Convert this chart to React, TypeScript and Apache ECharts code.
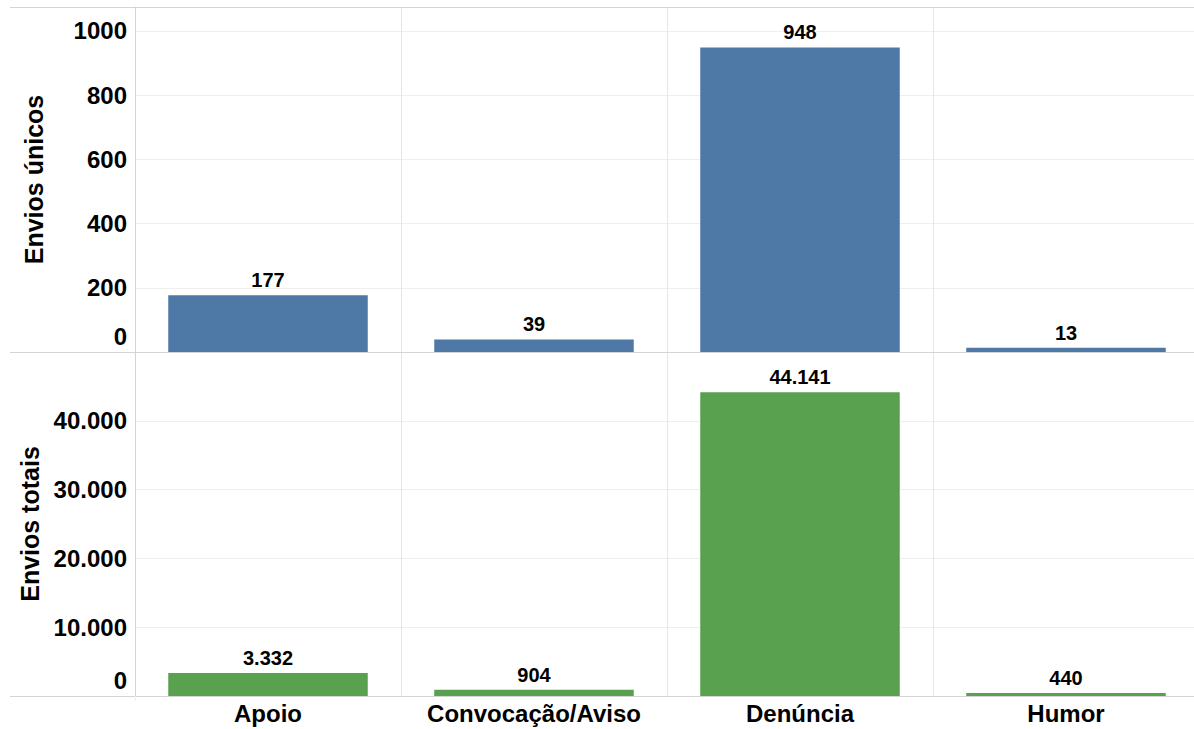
import React, { useEffect, useRef } from "react";
import * as echarts from "echarts";

const categories = ["Apoio", "Convocação/Aviso", "Denúncia", "Humor"];
const enviosUnicos = [177, 39, 948, 13];
const enviosTotais = [3332, 904, 44141, 440];
const uniqueTitle = "Envios únicos";
const totalTitle = "Envios totais";

const BLUE = "#4e79a7";
const GREEN = "#59a14f";
const FONT = "Liberation Sans, Arial, sans-serif";

const fmt = (n: number) => String(Math.round(n)).replace(/\B(?=(\d{3})+(?!\d))/g, ".");

const LEFT = 135;
const PLOT_W = 1064;
const TOP1 = 7;
const MID = 352;
const BOT = 696;

export default function App() {
  const ref = useRef<HTMLDivElement>(null);
  useEffect(() => {
    if (!ref.current) return;
    const chart = echarts.init(ref.current, undefined, { renderer: "svg" });
    const tickLabel = {
      color: "#000",
      fontFamily: FONT,
      fontWeight: "bold" as const,
      fontSize: 24,
      margin: 8,
      showMaxLabel: false,
      rich: {
        z: {
          color: "#000",
          fontFamily: FONT,
          fontWeight: "bold" as const,
          fontSize: 24,
          padding: [0, 0, 31, 0],
        },
      },
    };
    const dataLabel = {
      show: true,
      position: "top" as const,
      distance: 5,
      color: "#000",
      fontFamily: FONT,
      fontWeight: "bold" as const,
      fontSize: 20,
    };
    const lineStyle = { stroke: "#d4d4d4", lineWidth: 1 };
    chart.setOption({
      animation: false,
      backgroundColor: "#fff",
      grid: [
        { left: LEFT, width: PLOT_W, top: TOP1, height: MID - TOP1, outerBoundsMode: "none", containLabel: false },
        { left: LEFT, width: PLOT_W, top: MID, height: BOT - MID, outerBoundsMode: "none", containLabel: false },
      ],
      xAxis: [
        {
          type: "category",
          gridIndex: 0,
          data: categories,
          axisLine: { show: false },
          axisTick: { show: false },
          axisLabel: { show: false },
          splitLine: { show: true, interval: 0, lineStyle: { color: "#e6e6e6" } },
        },
        {
          type: "category",
          gridIndex: 1,
          data: categories,
          axisLine: { show: false },
          axisTick: { show: false },
          axisLabel: {
            interval: 0,
            color: "#000",
            fontFamily: FONT,
            fontWeight: "bold",
            fontSize: 24,
            margin: 5,
          },
          splitLine: { show: true, interval: 0, lineStyle: { color: "#e6e6e6" } },
        },
      ],
      yAxis: [
        {
          type: "value",
          gridIndex: 0,
          min: 0,
          max: 1074,
          interval: 200,
          name: uniqueTitle,
          nameLocation: "middle",
          nameGap: 89,
          nameTextStyle: { color: "#000", fontFamily: FONT, fontWeight: "bold", fontSize: 25 },
          axisLine: { show: true, lineStyle: { color: "#d4d4d4" } },
          axisTick: { show: false },
          axisLabel: {
            ...tickLabel,
            formatter: (v: number) => (v === 0 ? "{z|0}" : String(v)),
          },
          splitLine: { show: true, lineStyle: { color: "#efefef" } },
        },
        {
          type: "value",
          gridIndex: 1,
          min: 0,
          max: 50000,
          interval: 10000,
          name: totalTitle,
          nameLocation: "middle",
          nameGap: 89,
          nameTextStyle: { color: "#000", fontFamily: FONT, fontWeight: "bold", fontSize: 25 },
          axisLine: { show: true, lineStyle: { color: "#d4d4d4" } },
          axisTick: { show: false },
          axisLabel: {
            ...tickLabel,
            formatter: (v: number) => (v === 0 ? "{z|0}" : fmt(v)),
          },
          splitLine: { show: true, lineStyle: { color: "#efefef" } },
        },
      ],
      series: [
        {
          type: "bar",
          xAxisIndex: 0,
          yAxisIndex: 0,
          data: enviosUnicos,
          barWidth: "75%",
          itemStyle: { color: BLUE },
          label: { ...dataLabel, formatter: (p: any) => fmt(p.value) },
        },
        {
          type: "bar",
          xAxisIndex: 1,
          yAxisIndex: 1,
          data: enviosTotais,
          barWidth: "75%",
          itemStyle: { color: GREEN },
          label: { ...dataLabel, formatter: (p: any) => fmt(p.value) },
        },
      ],
      graphic: [
        { type: "line", silent: true, z: 10, shape: { x1: 10, y1: TOP1 + 0.5, x2: 1194, y2: TOP1 + 0.5 }, style: lineStyle },
        { type: "line", silent: true, z: 10, shape: { x1: 10, y1: MID + 0.5, x2: 1194, y2: MID + 0.5 }, style: lineStyle },
        { type: "line", silent: true, z: 10, shape: { x1: 10, y1: BOT + 0.5, x2: 1194, y2: BOT + 0.5 }, style: lineStyle },
        { type: "line", silent: true, z: 10, shape: { x1: LEFT + 0.5, y1: BOT, x2: LEFT + 0.5, y2: BOT + 5 }, style: { stroke: "#eeeeee", lineWidth: 1 } },
      ],
    });
    return () => chart.dispose();
  }, []);
  return (
    <div
      ref={ref}
      style={{ position: "fixed", left: 0, top: 0, width: 1194, height: 729 }}
    />
  );
}
